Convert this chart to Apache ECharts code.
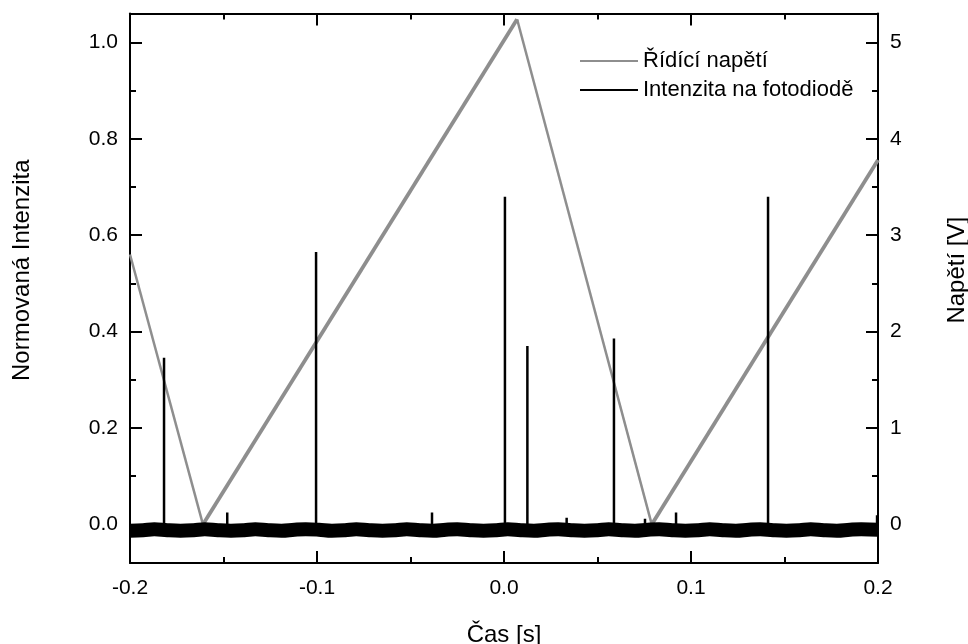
<!DOCTYPE html>
<html>
<head>
<meta charset="utf-8">
<script src="https://cdn.jsdelivr.net/npm/echarts@6/dist/echarts.min.js"></script>
<style>
  html, body { margin: 0; padding: 0; background: #fff; }
  #chart { width: 968px; height: 644px; }
</style>
</head>
<body>
<div id="chart"></div>
<script>
// --- data ---
// ridici napeti (right axis, V): corners of the ramp
const rampUp1 = [[-0.161, 0], [0.007, 5.24]];
const rampDown1 = [[-0.2, 2.8], [-0.161, 0]];
const rampDown2 = [[0.007, 5.24], [0.079, 0]];
const rampUp2 = [[0.079, 0], [0.2, 3.78]];

// spikes on the photodiode: position [s], height (normalized)
const peakX = [-0.1818, -0.148, -0.1005, -0.0385, 0.0005, 0.0125, 0.0335, 0.0588, 0.0754, 0.092, 0.1412, 0.1995];
const peakY = [0.346, 0.025, 0.565, 0.025, 0.68, 0.37, 0.014, 0.386, 0.012, 0.025, 0.68, 0.019];

// noisy baseline of the photodiode (centre of the black band)
const baseLine = [
  [-0.200, -0.013], [-0.193, -0.012], [-0.187, -0.010], [-0.180, -0.012], [-0.173, -0.013],
  [-0.166, -0.012], [-0.160, -0.010], [-0.153, -0.012], [-0.146, -0.013], [-0.139, -0.012],
  [-0.133, -0.010], [-0.126, -0.012], [-0.119, -0.013], [-0.112, -0.011], [-0.106, -0.010],
  [-0.099, -0.011], [-0.092, -0.013], [-0.085, -0.012], [-0.079, -0.010], [-0.072, -0.012],
  [-0.065, -0.013], [-0.058, -0.012], [-0.052, -0.010], [-0.045, -0.012], [-0.038, -0.013],
  [-0.031, -0.011], [-0.025, -0.010], [-0.018, -0.012], [-0.011, -0.013], [-0.004, -0.012],
  [0.002, -0.010], [0.009, -0.012], [0.016, -0.013], [0.023, -0.011], [0.029, -0.010],
  [0.036, -0.012], [0.043, -0.013], [0.050, -0.012], [0.056, -0.010], [0.063, -0.012],
  [0.070, -0.013], [0.077, -0.011], [0.083, -0.010], [0.090, -0.012], [0.097, -0.013],
  [0.104, -0.012], [0.110, -0.010], [0.117, -0.012], [0.124, -0.013], [0.131, -0.011],
  [0.137, -0.010], [0.144, -0.012], [0.151, -0.013], [0.158, -0.012], [0.164, -0.010],
  [0.171, -0.012], [0.178, -0.013], [0.185, -0.011], [0.191, -0.010], [0.200, -0.011]
];
const peakBase = -0.012;

const leftTicks = [0, 0.2, 0.4, 0.6, 0.8, 1.0];
const leftMinor = [0.1, 0.3, 0.5, 0.7, 0.9];
const rightTicks = [0, 1, 2, 3, 4, 5];
const rightMinor = [0.5, 1.5, 2.5, 3.5, 4.5];

// spikes as one polyline: up and down at each position
const spikeData = [];
peakX.forEach(function (x, i) {
  spikeData.push([x, peakBase], [x, peakY[i]], [x, peakBase]);
});

const font = "'Liberation Sans', Arial, sans-serif";
const black = "#000";
const grey = "#8e8e8e";

const chart = echarts.init(document.getElementById("chart"));

const xBase = {
  type: "value",
  min: -0.2,
  max: 0.2,
  interval: 0.1,
  axisLine: { show: true, onZero: false, lineStyle: { color: black, width: 2 } },
  axisTick: { show: true, inside: true, length: 12, lineStyle: { color: black, width: 2 } },
  minorTick: { show: true, splitNumber: 2, length: 6, lineStyle: { color: black, width: 2 } },
  splitLine: { show: false }
};

const yMinorBase = {
  type: "value",
  axisLine: { show: false, onZero: false },
  axisLabel: { show: false },
  splitLine: { show: false },
  axisTick: { show: true, inside: true, length: 6, lineStyle: { color: black, width: 2 } }
};

chart.setOption({
  animation: false,
  backgroundColor: "#fff",
  textStyle: { fontFamily: font },
  grid: { left: 130, right: 90, top: 13.5, bottom: 81, outerBoundsMode: "none" },
  legend: {
    orient: "vertical",
    left: 575,
    top: 45,
    icon: "rect",
    itemWidth: 58,
    itemHeight: 2,
    itemGap: 7,
    textStyle: { fontFamily: font, fontSize: 22, color: black },
    data: [
      { name: "Řídící napětí", itemStyle: { color: grey } },
      { name: "Intenzita na fotodiodě", itemStyle: { color: black } }
    ]
  },
  xAxis: [
    Object.assign({}, xBase, {
      position: "bottom",
      name: "Čas [s]",
      nameLocation: "middle",
      nameGap: 60,
      nameTextStyle: { fontFamily: font, fontSize: 24, color: black },
      axisLabel: {
        margin: 15,
        fontSize: 21,
        color: black,
        fontFamily: font,
        formatter: function (v) { return v.toFixed(1); }
      }
    }),
    Object.assign({}, xBase, { position: "top", axisLabel: { show: false } })
  ],
  yAxis: [
    {
      type: "value",
      position: "left",
      min: -0.08,
      max: 1.06,
      name: "Normovaná Intenzita",
      nameLocation: "middle",
      nameRotate: 90,
      nameGap: 96,
      nameTextStyle: { fontFamily: font, fontSize: 24, color: black, padding: [0, 0, 0, 36] },
      axisLine: { show: true, onZero: false, lineStyle: { color: black, width: 2 } },
      axisTick: { show: true, inside: true, length: 12, customValues: leftTicks, lineStyle: { color: black, width: 2 } },
      axisLabel: {
        customValues: leftTicks,
        margin: 12,
        fontSize: 21,
        color: black,
        fontFamily: font,
        formatter: function (v) { return v.toFixed(1); }
      },
      splitLine: { show: false }
    },
    {
      type: "value",
      position: "right",
      min: -0.4,
      max: 5.3,
      name: "Napětí [V]",
      nameLocation: "middle",
      nameRotate: 90,
      nameGap: 67,
      nameTextStyle: { fontFamily: font, fontSize: 24, color: black, padding: [0, 0, 0, 36] },
      axisLine: { show: true, onZero: false, lineStyle: { color: black, width: 2 } },
      axisTick: { show: true, inside: true, length: 12, customValues: rightTicks, lineStyle: { color: black, width: 2 } },
      axisLabel: {
        customValues: rightTicks,
        margin: 12,
        fontSize: 21,
        color: black,
        fontFamily: font,
        formatter: function (v) { return String(Math.round(v)); }
      },
      splitLine: { show: false }
    },
    Object.assign({}, yMinorBase, {
      position: "left", min: -0.08, max: 1.06,
      axisTick: Object.assign({}, yMinorBase.axisTick, { customValues: leftMinor })
    }),
    Object.assign({}, yMinorBase, {
      position: "right", min: -0.4, max: 5.3,
      axisTick: Object.assign({}, yMinorBase.axisTick, { customValues: rightMinor })
    })
  ],
  series: [
    {
      name: "Řídící napětí",
      type: "line",
      yAxisIndex: 1,
      data: rampDown1,
      symbol: "none",
      z: 1,
      itemStyle: { color: grey },
      lineStyle: { color: grey, width: 2.5 }
    },
    {
      name: "Řídící napětí",
      type: "line",
      yAxisIndex: 1,
      data: rampUp1,
      symbol: "none",
      z: 1,
      itemStyle: { color: grey },
      lineStyle: { color: grey, width: 3.8 }
    },
    {
      name: "Řídící napětí",
      type: "line",
      yAxisIndex: 1,
      data: rampDown2,
      symbol: "none",
      z: 1,
      itemStyle: { color: grey },
      lineStyle: { color: grey, width: 2.5 }
    },
    {
      name: "Řídící napětí",
      type: "line",
      yAxisIndex: 1,
      data: rampUp2,
      symbol: "none",
      z: 1,
      itemStyle: { color: grey },
      lineStyle: { color: grey, width: 3.8 }
    },
    {
      name: "Intenzita na fotodiodě",
      type: "line",
      yAxisIndex: 0,
      data: spikeData,
      symbol: "none",
      z: 3,
      itemStyle: { color: black },
      lineStyle: { color: black, width: 2.5 }
    },
    {
      name: "baseline",
      type: "line",
      yAxisIndex: 0,
      data: baseLine,
      symbol: "none",
      smooth: 0.4,
      z: 3,
      itemStyle: { color: black },
      lineStyle: { color: black, width: 14 }
    }
  ]
});
</script>
</body>
</html>
